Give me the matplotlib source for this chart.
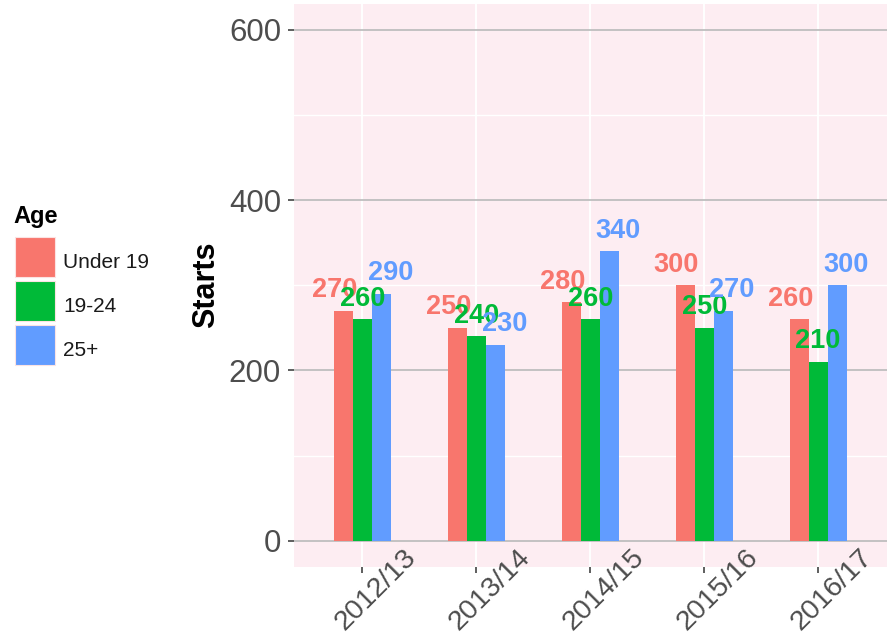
import matplotlib
matplotlib.use('Agg')
import matplotlib.pyplot as plt
from matplotlib.patches import Patch, Rectangle
from matplotlib.legend_handler import HandlerPatch
from matplotlib.transforms import ScaledTranslation
import numpy as np

years = ['2012/13', '2013/14', '2014/15', '2015/16', '2016/17']
age_groups = ['Under 19', '19-24', '25+']
under19 = [270, 250, 280, 300, 260]
age19_24 = [260, 240, 260, 250, 210]
age25plus = [290, 230, 340, 270, 300]
colors = ['#F8766D', '#00BA38', '#619CFF']

plt.rcParams['font.family'] = ['Liberation Sans', 'DejaVu Sans']

fig = plt.figure(figsize=(8.9, 6.39), dpi=100)
ax = fig.add_axes([294 / 890, 1 - 566.5 / 639, 592.5 / 890, (566.5 - 4) / 639])
ax.set_facecolor('#FDEDF2')

x = np.arange(1, len(years) + 1)
bw = 1 / 6
series = [under19, age19_24, age25plus]
for i, (vals, c, name) in enumerate(zip(series, colors, age_groups)):
    ax.bar(x + (i - 1) * bw, vals, width=bw, color=c, zorder=2, label=name)
for i, (vals, c) in enumerate(zip(series, colors)):
    for xi, v in zip(x, vals):
        ax.annotate(str(v), (xi + (i - 1) * 0.245, v), xytext=(0, 9.7),
                    textcoords='offset points', ha='center', va='baseline',
                    color=c, fontsize=19.5, fontweight='bold', zorder=3)

ax.set_xlim(0.4, 5.6)
ax.set_ylim(-30, 630)
ax.set_yticks([0, 200, 400, 600])
ax.set_yticks([100, 300, 500], minor=True)
ax.set_xticks(x)
ax.set_xticklabels(years)
ax.set_axisbelow(True)
ax.grid(which='major', axis='y', color='#BEBEBE', lw=1.3)
ax.grid(which='minor', axis='y', color='white', lw=1.0)
ax.grid(which='major', axis='x', color='white', lw=1.4)
for s in ax.spines.values():
    s.set_visible(False)

ax.tick_params(axis='y', which='major', length=4.3, width=1.1, color='#333333',
               labelsize=22.5, labelcolor='#4D4D4D', pad=5)
ax.tick_params(axis='y', which='minor', length=0)
ax.tick_params(axis='x', length=4.3, width=1.1, color='#333333',
               labelsize=20.5, labelcolor='#4D4D4D', pad=12.6)
for lab in ax.get_xticklabels():
    lab.set_rotation(45)
    lab.set_rotation_mode('anchor')
    lab.set_ha('center')
    lab.set_va('center')
    lab.set_transform(lab.get_transform() + ScaledTranslation(0.135, 0, fig.dpi_scale_trans))

ax.set_ylabel('Starts', fontsize=22, fontweight='bold', color='black', va='center')
ax.yaxis.set_label_coords((206.5 - 294) / 592.5, 0.5)

fig.text(13.5 / 890, 1 - 222.5 / 639, 'Age', fontsize=17, fontweight='bold',
         ha='left', va='baseline', color='black')

SHIFT_PT = 4.7 * 72 / 100


def key_rect(legend, orig_handle, xdescent, ydescent, width, height, fontsize):
    return Rectangle((-xdescent, -ydescent + SHIFT_PT), width, height)


handles = [Patch(facecolor=c, edgecolor='#FBE3E3', linewidth=0.8) for c in colors]
fig.legend(handles, age_groups, loc='upper left',
           bbox_to_anchor=(15 / 890, 1 - (236.7 + 4.7) / 639), frameon=False,
           borderpad=0, borderaxespad=0, handlelength=1.92, handleheight=2.577,
           labelspacing=0.19, handletextpad=0.38, fontsize=15, labelcolor='#1A1A1A',
           handler_map={Patch: HandlerPatch(patch_func=key_rect)})

fig.savefig('out.png', dpi=100)
